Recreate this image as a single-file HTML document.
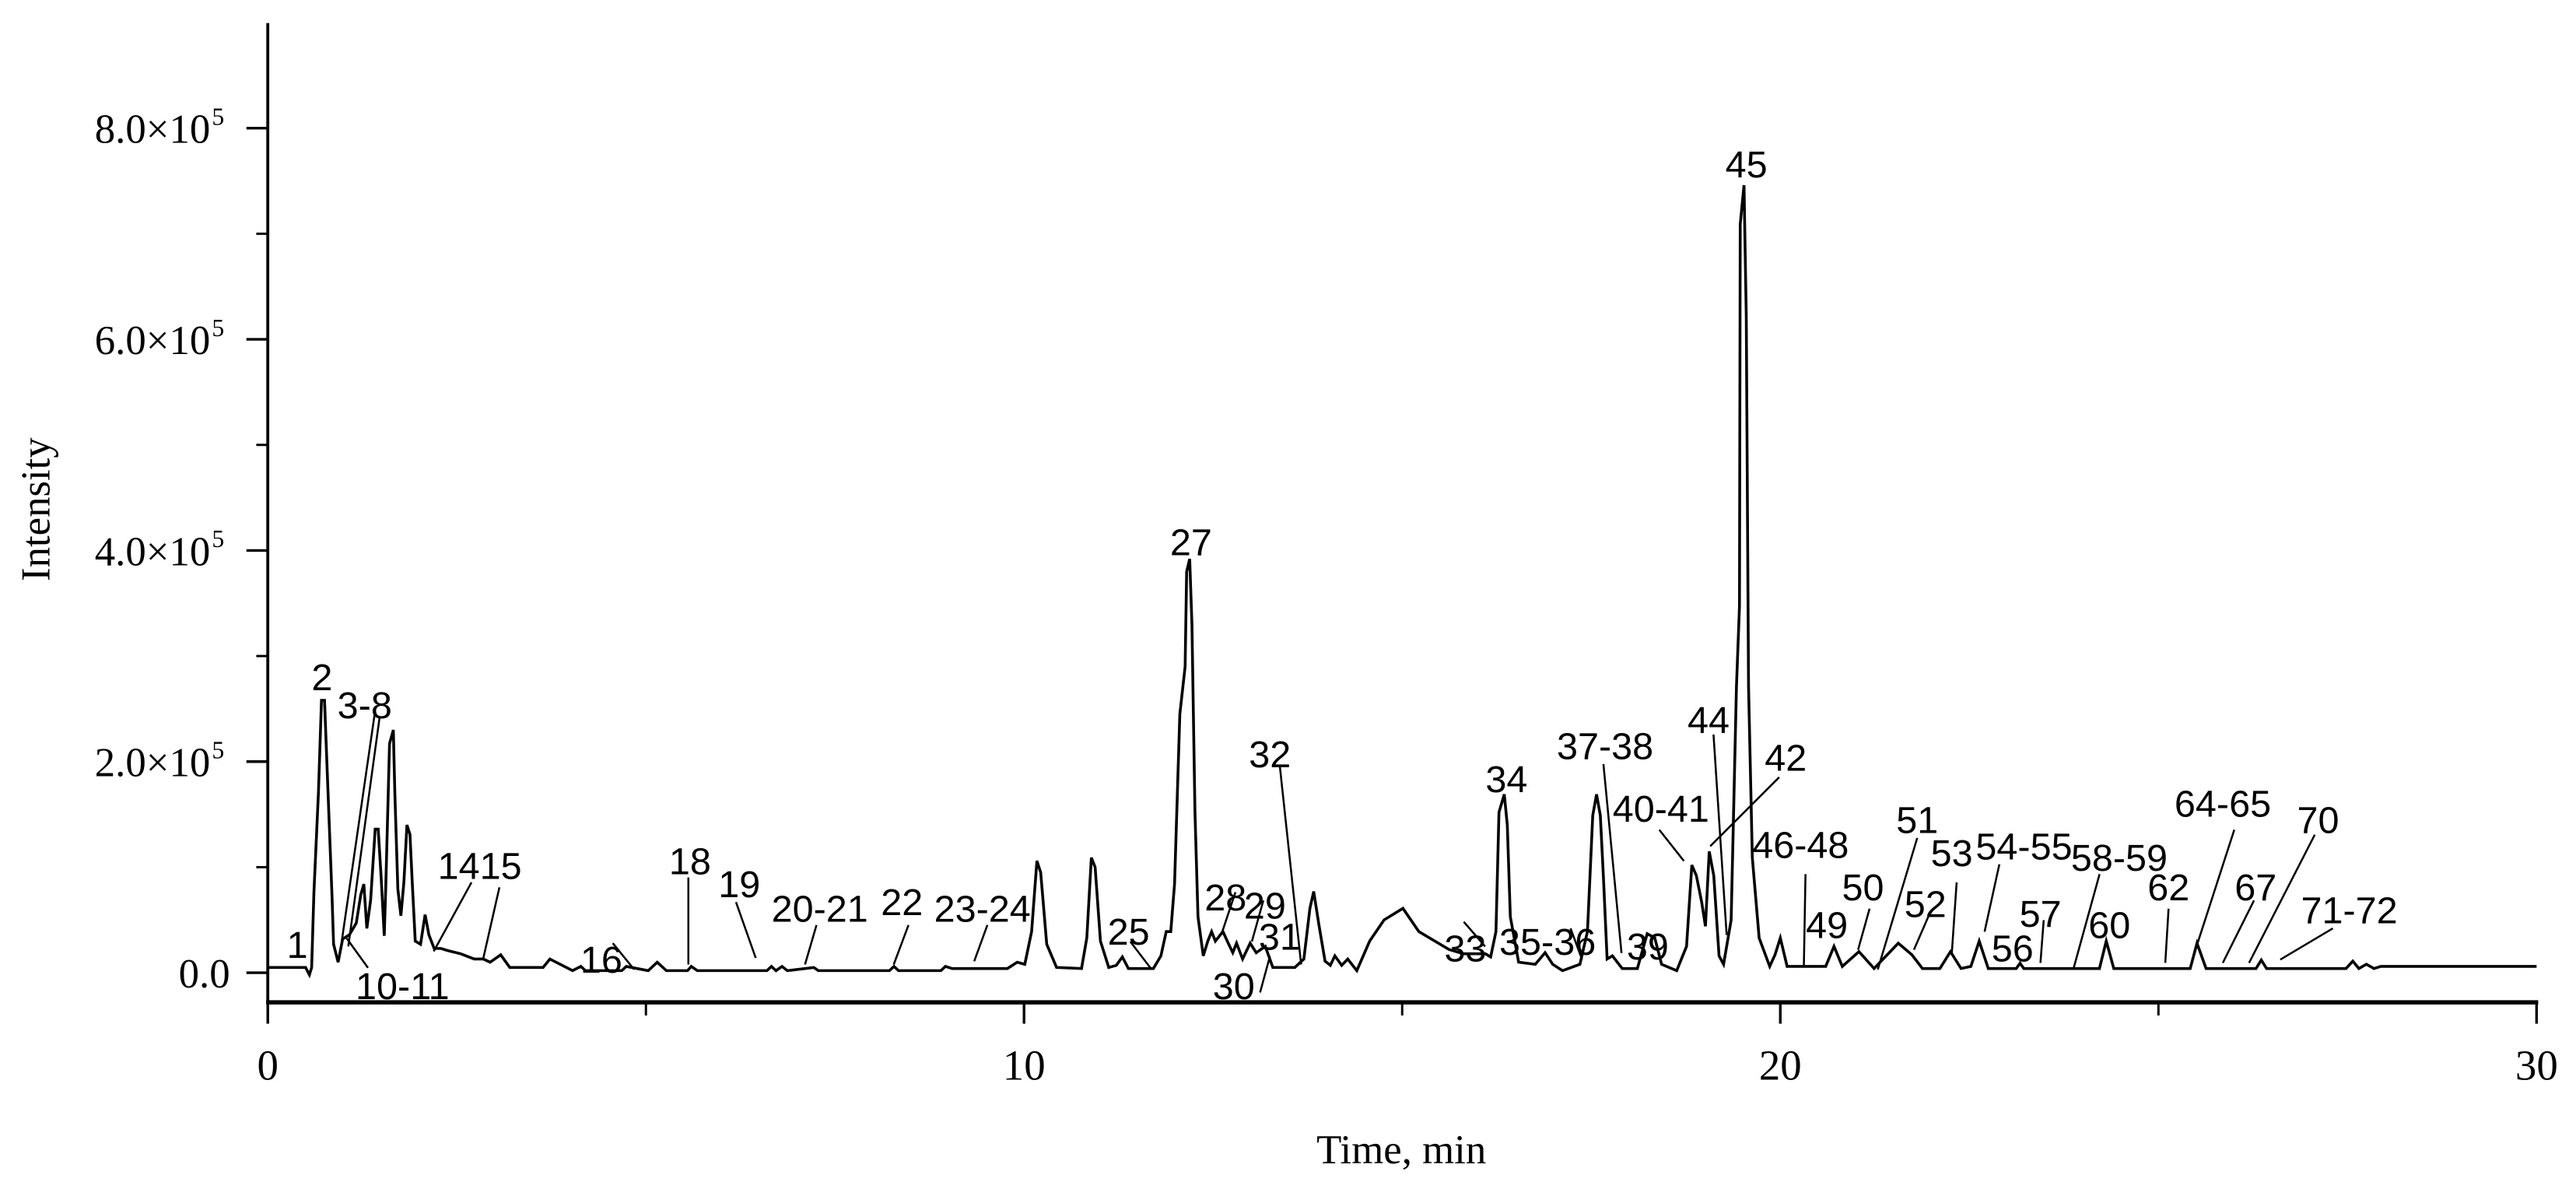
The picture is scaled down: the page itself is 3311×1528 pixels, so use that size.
<!DOCTYPE html>
<html>
<head>
<meta charset="utf-8">
<style>
html,body{margin:0;padding:0;background:#fff;}
svg{display:block;}
.pl{font-family:"Liberation Sans",Arial,sans-serif;font-size:23px;fill:#000;text-anchor:middle;}
.ax{font-family:"Liberation Serif","Times New Roman",serif;fill:#000;}
</style>
</head>
<body>
<svg id="chart" width="3311" height="1528" viewBox="0 0 1568 723.6" xmlns="http://www.w3.org/2000/svg">
<rect x="0" y="0" width="1568" height="723.6" fill="#fff"/>
<g id="axes"></g>
<g id="trace"></g>
<g id="labels" stroke="#000" stroke-width="1.2">
  <line x1="228" y1="435" x2="208" y2="573"/>
  <line x1="231" y1="437" x2="212" y2="576"/>
  <line x1="211" y1="571" x2="224" y2="589"/>
  <line x1="287" y1="537" x2="264" y2="579"/>
  <line x1="304" y1="540" x2="294" y2="584"/>
  <line x1="373" y1="574" x2="386" y2="590"/>
  <line x1="419" y1="534" x2="419" y2="587"/>
  <line x1="448" y1="549" x2="460" y2="583"/>
  <line x1="497" y1="563" x2="490" y2="587"/>
  <line x1="553" y1="563" x2="544" y2="587"/>
  <line x1="601" y1="563" x2="593" y2="585"/>
  <line x1="688" y1="573" x2="701" y2="590"/>
  <line x1="752" y1="543" x2="744" y2="567"/>
  <line x1="769" y1="548" x2="762" y2="573"/>
  <line x1="767" y1="604" x2="773" y2="582"/>
  <line x1="779" y1="466" x2="792" y2="587"/>
  <line x1="891" y1="561" x2="904" y2="576"/>
  <line x1="956" y1="565" x2="963" y2="584"/>
  <line x1="976" y1="465" x2="987" y2="580"/>
  <line x1="1010" y1="505" x2="1025" y2="524"/>
  <line x1="1043" y1="447" x2="1051" y2="569"/>
  <line x1="1083" y1="473" x2="1041" y2="515"/>
  <line x1="1099" y1="532" x2="1098" y2="588"/>
  <line x1="1138" y1="553" x2="1131" y2="578"/>
  <line x1="1167" y1="510" x2="1143" y2="590"/>
  <line x1="1175" y1="555" x2="1165" y2="578"/>
  <line x1="1191" y1="537" x2="1188" y2="581"/>
  <line x1="1217" y1="526" x2="1208" y2="567"/>
  <line x1="1244" y1="560" x2="1242" y2="586"/>
  <line x1="1278" y1="532" x2="1262" y2="590"/>
  <line x1="1320" y1="553" x2="1318" y2="586"/>
  <line x1="1360" y1="505" x2="1337" y2="576"/>
  <line x1="1372" y1="548" x2="1353" y2="586"/>
  <line x1="1409" y1="508" x2="1369" y2="586"/>
  <line x1="1420" y1="565" x2="1388" y2="584"/>
  <g stroke="none">
  <text class="pl" x="181" y="583">1</text>
  <text class="pl" x="196" y="420">2</text>
  <text class="pl" x="222" y="437">3-8</text>
  <text class="pl" x="245" y="608">10-11</text>
  <text class="pl" x="292" y="535">1415</text>
  <text class="pl" x="366" y="592">16</text>
  <text class="pl" x="420" y="532">18</text>
  <text class="pl" x="450" y="546">19</text>
  <text class="pl" x="499" y="561">20-21</text>
  <text class="pl" x="549" y="557">22</text>
  <text class="pl" x="598" y="561">23-24</text>
  <text class="pl" x="687" y="575">25</text>
  <text class="pl" x="725" y="338">27</text>
  <text class="pl" x="746" y="554">28</text>
  <text class="pl" x="770" y="559">29</text>
  <text class="pl" x="751" y="608">30</text>
  <text class="pl" x="779" y="578">31</text>
  <text class="pl" x="773" y="467">32</text>
  <text class="pl" x="892" y="585">33</text>
  <text class="pl" x="917" y="482">34</text>
  <text class="pl" x="942" y="581">35-36</text>
  <text class="pl" x="977" y="462">37-38</text>
  <text class="pl" x="1003" y="584">39</text>
  <text class="pl" x="1011" y="500">40-41</text>
  <text class="pl" x="1040" y="446">44</text>
  <text class="pl" x="1087" y="469">42</text>
  <text class="pl" x="1063" y="108">45</text>
  <text class="pl" x="1096" y="522">46-48</text>
  <text class="pl" x="1112" y="571">49</text>
  <text class="pl" x="1134" y="548">50</text>
  <text class="pl" x="1167" y="507">51</text>
  <text class="pl" x="1172" y="558">52</text>
  <text class="pl" x="1188" y="527">53</text>
  <text class="pl" x="1232" y="523">54-55</text>
  <text class="pl" x="1225" y="585">56</text>
  <text class="pl" x="1242" y="564">57</text>
  <text class="pl" x="1290" y="530">58-59</text>
  <text class="pl" x="1284" y="571">60</text>
  <text class="pl" x="1320" y="548">62</text>
  <text class="pl" x="1353" y="497">64-65</text>
  <text class="pl" x="1373" y="548">67</text>
  <text class="pl" x="1411" y="507">70</text>
  <text class="pl" x="1430" y="562">71-72</text>
  </g>
</g>
</svg>
<script>
// retention time (min)
const times = [0,0.5,0.55,0.58,0.61,0.67,0.71,0.75,0.79,0.85,0.87,0.93,0.99,1.08,1.17,1.23,1.27,1.31,1.36,1.42,1.46,1.50,1.54,1.56,1.61,1.66,1.68,1.72,1.76,1.80,1.84,1.88,1.91,1.95,2.02,2.08,2.13,2.20,2.29,2.38,2.55,2.73,2.85,2.94,3.08,3.20,3.64,3.73,4.03,4.14,4.20,4.68,4.74,5.03,5.15,5.27,5.55,5.60,5.68,6.60,6.66,6.72,6.80,6.87,7.22,7.28,8.22,8.28,8.34,8.90,8.96,9.05,9.78,9.91,10.01,10.10,10.17,10.22,10.30,10.43,10.76,10.83,10.89,10.94,11.01,11.12,11.22,11.30,11.38,11.71,11.81,11.88,11.94,11.99,12.06,12.13,12.15,12.19,12.22,12.26,12.30,12.37,12.43,12.48,12.53,12.63,12.70,12.76,12.81,12.89,12.99,13.07,13.19,13.29,13.58,13.70,13.78,13.83,13.90,13.98,14.05,14.11,14.20,14.28,14.40,14.57,14.76,15.01,15.22,15.62,15.81,16.10,16.17,16.24,16.28,16.35,16.39,16.43,16.54,16.76,16.89,16.99,17.12,17.35,17.45,17.52,17.57,17.62,17.66,17.71,17.78,17.91,18.11,18.24,18.34,18.43,18.63,18.76,18.83,18.89,18.96,19.01,19.06,19.12,19.19,19.25,19.35,19.42,19.46,19.47,19.52,19.55,19.58,19.63,19.72,19.86,19.93,20.00,20.09,20.60,20.71,20.82,21.04,21.24,21.56,21.74,21.88,22.11,22.25,22.39,22.52,22.63,22.75,23.12,23.17,23.22,24.22,24.31,24.41,25.42,25.51,25.63,26.29,26.36,26.43,27.48,27.57,27.65,27.75,27.85,27.94,30];
// intensity (x1e5)
const intensity = [0.05,0.05,-0.02,0.05,0.76,1.71,2.58,2.58,1.83,0.71,0.27,0.10,0.32,0.36,0.47,0.74,0.84,0.42,0.69,1.36,1.36,0.89,0.35,0.81,2.17,2.30,1.70,0.79,0.54,0.86,1.40,1.31,0.86,0.30,0.27,0.55,0.36,0.23,0.23,0.21,0.18,0.13,0.13,0.10,0.17,0.05,0.05,0.13,0.02,0.06,0.02,0.02,0.06,0.02,0.10,0.02,0.02,0.06,0.02,0.02,0.06,0.02,0.06,0.02,0.05,0.02,0.02,0.06,0.02,0.02,0.06,0.04,0.04,0.10,0.08,0.39,1.06,0.95,0.27,0.05,0.04,0.33,1.09,1.00,0.30,0.05,0.07,0.15,0.04,0.04,0.16,0.39,0.39,0.84,2.45,2.90,3.80,3.92,3.30,1.52,0.53,0.16,0.30,0.39,0.30,0.39,0.28,0.19,0.28,0.13,0.28,0.19,0.25,0.05,0.05,0.13,0.61,0.77,0.45,0.11,0.07,0.16,0.07,0.13,0.02,0.30,0.50,0.61,0.39,0.22,0.18,0.18,0.15,0.39,1.52,1.69,1.40,0.53,0.10,0.08,0.19,0.08,0.02,0.08,0.39,1.49,1.69,1.49,0.92,0.13,0.16,0.04,0.04,0.37,0.33,0.08,0.02,0.25,1.02,0.92,0.67,0.44,1.15,0.92,0.16,0.08,0.50,2.71,3.47,7.09,7.46,6.22,2.71,1.09,0.33,0.06,0.17,0.33,0.06,0.06,0.25,0.06,0.20,0.04,0.28,0.17,0.04,0.04,0.20,0.04,0.06,0.30,0.04,0.04,0.09,0.04,0.04,0.30,0.04,0.04,0.28,0.04,0.04,0.12,0.04,0.04,0.11,0.04,0.08,0.04,0.06,0.06];
const xTicks = [0,10,20,30];
const xMinorTicks = [5,15,25];
const yTicks = [0,2,4,6,8];
const yMinorTicks = [1,3,5,7];
const yTickLabels = ["0.0","2.0×10","4.0×10","6.0×10","8.0×10"];

const NS = "http://www.w3.org/2000/svg";
const X0 = 163, X1 = 1544, Y0 = 592, Y8 = 78, AXY = 610, TOP = 14;
function xs(t){ return X0 + (t/30)*(X1-X0); }
function ys(v){ return Y0 - (v/8)*(Y0-Y8); }
function mk(tag, attrs, parent){
  const e = document.createElementNS(NS, tag);
  for (const k in attrs) e.setAttribute(k, attrs[k]);
  parent.appendChild(e);
  return e;
}
const axes = document.getElementById('axes');
let el = mk('line',{x1:X0,y1:TOP,x2:X0,y2:AXY+1,stroke:'#000','stroke-width':1.8},axes);


el = mk('line',{x1:X0-1,y1:AXY,x2:X1+1,y2:AXY,stroke:'#000','stroke-width':2.6},axes);


xTicks.forEach(function(t){
  const tk = mk('line',{x1:xs(t),y1:AXY,x2:xs(t),y2:AXY+13,stroke:'#000','stroke-width':1.6},axes);
  
  
  const lb = mk('text',{x:xs(t),y:657,'font-size':26,'text-anchor':'middle',class:'ax'},axes);
  lb.textContent = String(t);
  
  
});
xMinorTicks.forEach(function(t){
  const tk = mk('line',{x1:xs(t),y1:AXY,x2:xs(t),y2:AXY+8,stroke:'#000','stroke-width':1.4},axes);
  
  
});
yTicks.forEach(function(v,i){
  const tk = mk('line',{x1:X0-13,y1:ys(v),x2:X0,y2:ys(v),stroke:'#000','stroke-width':1.6},axes);
  
  
  const lb = mk('text',{x:i===0?140:128,y:ys(v)+9,'font-size':25,'text-anchor':'end',class:'ax'},axes);
  lb.textContent = yTickLabels[i];
  
  
  if (i>0){
    const sp = mk('text',{x:129,y:ys(v)-2,'font-size':15,'text-anchor':'start',class:'ax'},axes);
    sp.textContent = '5';
    
    
  }
});
yMinorTicks.forEach(function(v){
  const tk = mk('line',{x1:X0-7,y1:ys(v),x2:X0,y2:ys(v),stroke:'#000','stroke-width':1.4},axes);
  
  
});
el = mk('text',{x:853,y:708,'font-size':25,'text-anchor':'middle',class:'ax'},axes);
el.textContent = 'Time, min';


el = mk('text',{x:0,y:0,'font-size':25,'text-anchor':'middle',class:'ax',transform:'translate(30,310) rotate(-90)'},axes);
el.textContent = 'Intensity';



const trace = document.getElementById('trace');
let d = '';
for (let i=0;i<times.length;i++){
  d += (i?'L':'M') + xs(times[i]).toFixed(2) + ' ' + ys(intensity[i]).toFixed(2) + ' ';
}
const p = mk('path',{d:d,fill:'none',stroke:'#000','stroke-width':1.7,'stroke-linejoin':'miter'},trace);


</script>
</body>
</html>
